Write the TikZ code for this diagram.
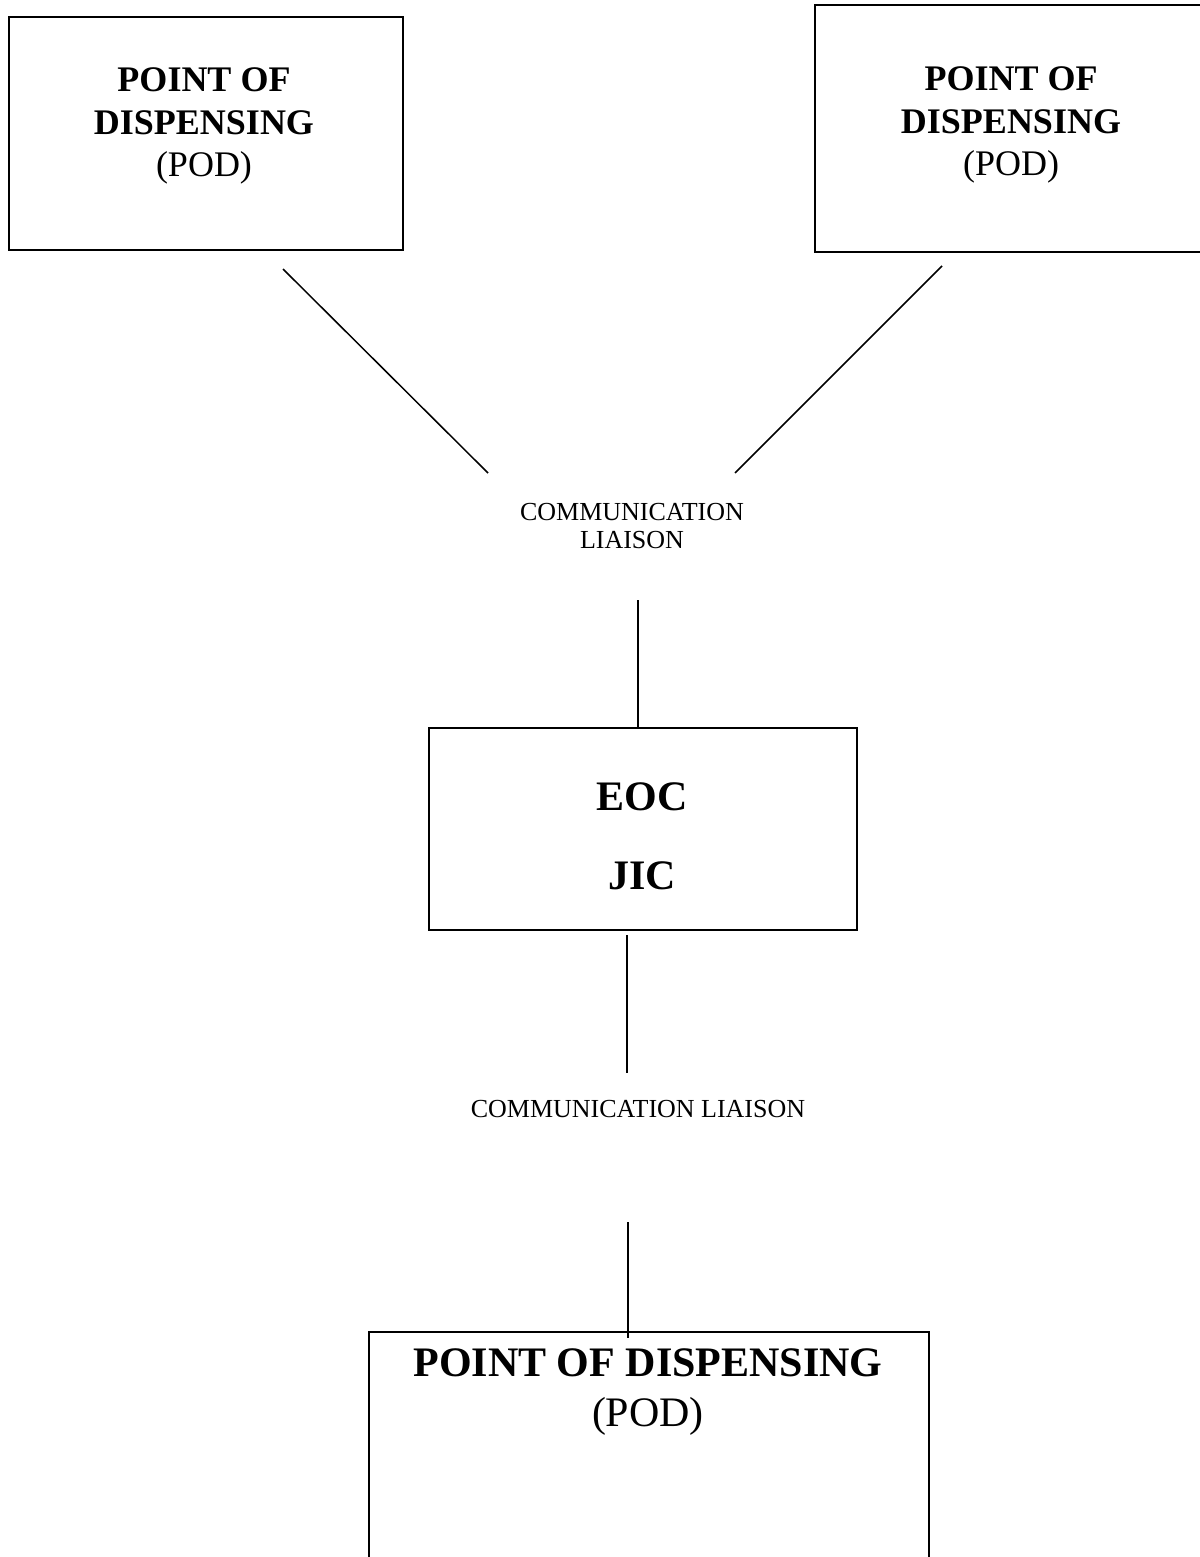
\documentclass[tikz,border=0pt]{standalone}
\usepackage{fontspec}
\setmainfont{Liberation Serif}
\usetikzlibrary{positioning}
\tikzstyle{link} = [draw, line width=1.5pt]
\tikzset{
  basic box/.style = {
    shape = rectangle,
    draw,
    line width = 1.5pt,
    inner sep = 0pt,
    },
  box text/.style = {
    align = center,
    inner sep = 0pt,
    },
  pod text/.style = {
    box text,
    font = \fontsize{36}{42.5}\selectfont,
    },
  big text/.style = {
    box text,
    font = \fontsize{42}{47}\selectfont,
    },
  liaison/.style = {
    align = center,
    inner sep = 0pt,
    font = \fontsize{26}{28.5}\selectfont,
    }
}

\begin{document}
\begin{tikzpicture}[x=1pt,y=-1pt]
    \useasboundingbox (0,0) rectangle (1199,1557);

    %top boxes
    \node [basic box, minimum width=394pt, minimum height=233pt] (podL) at (206,133.5) {};
    \node [pod text] (podLtext) at (204,126) {\textbf{POINT OF}\\\textbf{DISPENSING}\\(POD)};

    \node [basic box, minimum width=389pt, minimum height=247pt] (podR) at (1009.5,128.5) {};
    \node [pod text] (podRtext) at (1011,125) {\textbf{POINT OF}\\\textbf{DISPENSING}\\(POD)};

    \node [liaison] (liaisonA) at (632,526) {COMMUNICATION\\LIAISON};

    %eoc
    \node [basic box, minimum width=428pt, minimum height=202pt] (eoc) at (643,829) {};
    \node [big text, font=\fontsize{42}{79}\bfseries\selectfont] (eoctext) at (642,836) {EOC\\JIC};

    \node [liaison] (liaisonB) at (638,1109) {COMMUNICATION LIAISON};

    %bottom box
    \node [basic box, minimum width=560pt, minimum height=268pt] (podB) at (649,1466) {};
    \node [big text, font=\fontsize{42}{50}\selectfont] (podBtext) at (648,1392) {\textbf{POINT OF DISPENSING}\\(POD)};

    % Paths
    \coordinate (podL-out) at (283,269);
    \coordinate (liaisonA-nw) at (488,473);
    \coordinate (podR-out) at (942,266);
    \coordinate (liaisonA-ne) at (735,473);
    \coordinate (liaisonA-s) at (638,600);
    \coordinate (eoc-n) at (638,728);
    \coordinate (eoc-s) at (627,935);
    \coordinate (liaisonB-n) at (627,1073);
    \coordinate (liaisonB-s) at (628,1222);
    \coordinate (podB-n) at (628,1338);

    \path[link] (podL-out) -- (liaisonA-nw);
    \path[link] (podR-out) -- (liaisonA-ne);
    \path[link] (liaisonA-s) -- (eoc-n);
    \path[link] (eoc-s) -- (liaisonB-n);
    \path[link] (liaisonB-s) -- (podB-n);
\end{tikzpicture}
\end{document}
